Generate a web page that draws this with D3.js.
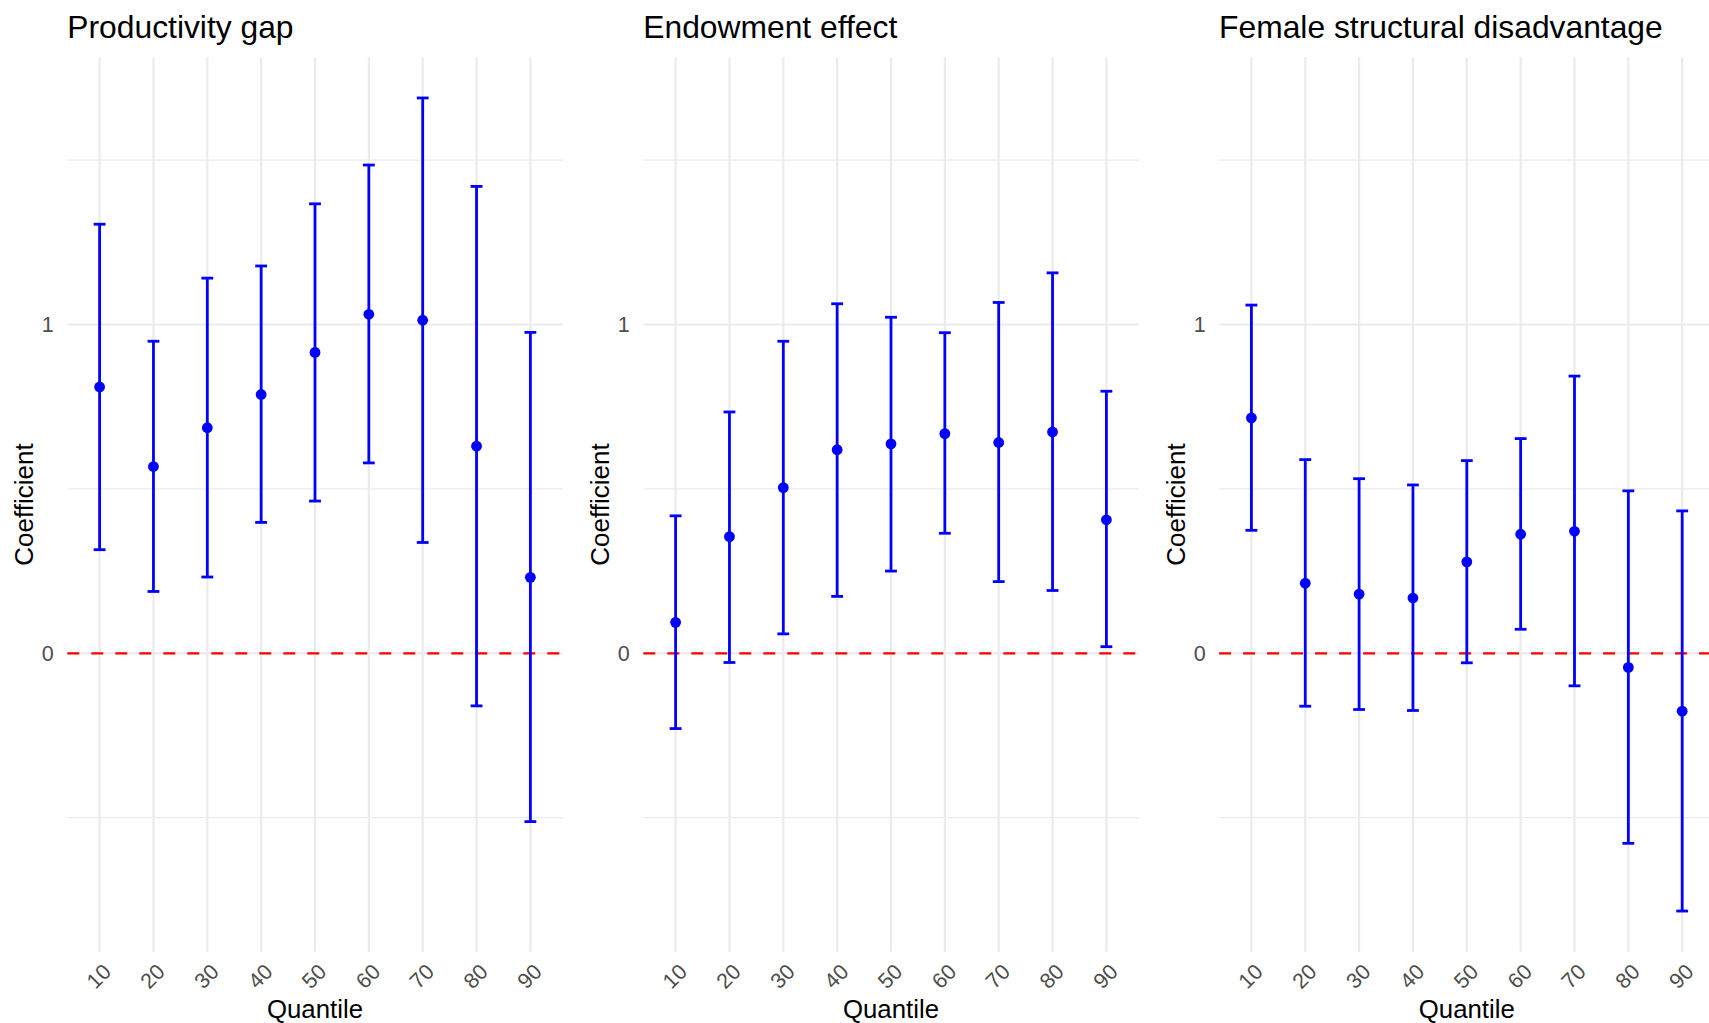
<!DOCTYPE html>
<html lang="en">
<head>
  <meta charset="utf-8">
  <title>Quantile coefficients</title>
  <script src="https://cdn.jsdelivr.net/npm/d3@7"></script>
  <style>
    body { margin: 0; background: #fff; }
    svg { display: block; font-family: "Liberation Sans", Arial, sans-serif; }
  </style>
</head>
<body>
<svg id="chart" width="1709" height="1023"></svg>
<script>

const quantiles = ["10", "20", "30", "40", "50", "60", "70", "80", "90"];

const prodEst = [0.810, 0.568, 0.686, 0.787, 0.915, 1.031, 1.013, 0.630, 0.231];
const prodLo  = [0.315, 0.188, 0.232, 0.398, 0.463, 0.579, 0.337, -0.160, -0.512];
const prodHi  = [1.305, 0.949, 1.141, 1.178, 1.367, 1.485, 1.689, 1.420, 0.976];

const endowEst = [0.094, 0.355, 0.504, 0.619, 0.637, 0.668, 0.641, 0.673, 0.406];
const endowLo  = [-0.229, -0.028, 0.059, 0.173, 0.250, 0.365, 0.218, 0.191, 0.020];
const endowHi  = [0.418, 0.734, 0.949, 1.063, 1.022, 0.975, 1.067, 1.157, 0.797];

const femEst = [0.716, 0.213, 0.180, 0.168, 0.278, 0.362, 0.371, -0.043, -0.176];
const femLo  = [0.374, -0.161, -0.171, -0.174, -0.029, 0.073, -0.099, -0.578, -0.784];
const femHi  = [1.059, 0.589, 0.531, 0.512, 0.586, 0.653, 0.843, 0.494, 0.433];

const titles = ["Productivity gap", "Endowment effect", "Female structural disadvantage"];
const yBreaks = [0, 1];
const yMinor = [-0.5, 0.5, 1.5];

const panels = [
  {title: titles[0], est: prodEst, lo: prodLo, hi: prodHi},
  {title: titles[1], est: endowEst, lo: endowLo, hi: endowHi},
  {title: titles[2], est: femEst, lo: femLo, hi: femHi}
];

// layout
const panelTop = 57.3, panelBottom = 951.7;
const panelW = 495.4;
const panelLefts = [67.3, 643.3, 1219.1];

// shared y range, 5% expansion like ggplot
const allVals = d3.merge([prodLo, prodHi, endowLo, endowHi, femLo, femHi]);
const [ymin, ymax] = d3.extent(allVals);
const pad = (ymax - ymin) * 0.05;
const y = d3.scaleLinear().domain([ymin - pad, ymax + pad]).range([panelBottom, panelTop]);

const svg = d3.select('#chart');

panels.forEach(function(p, k) {
  const left = panelLefts[k];
  const x = d3.scalePoint().domain(quantiles).range([left, left + panelW]).padding(0.6);
  const capHalf = x.step() * 0.11;
  const g = svg.append('g');

  // grid
  g.selectAll('line.minor').data(yMinor).enter().append('line')
    .attr('x1', left).attr('x2', left + panelW)
    .attr('y1', d => y(d)).attr('y2', d => y(d))
    .attr('stroke', '#EBEBEB').attr('stroke-width', 1.1);
  g.selectAll('line.major').data(yBreaks).enter().append('line')
    .attr('x1', left).attr('x2', left + panelW)
    .attr('y1', d => y(d)).attr('y2', d => y(d))
    .attr('stroke', '#EBEBEB').attr('stroke-width', 2.2);
  g.selectAll('line.vgrid').data(quantiles).enter().append('line')
    .attr('x1', d => x(d)).attr('x2', d => x(d))
    .attr('y1', panelTop).attr('y2', panelBottom)
    .attr('stroke', '#EBEBEB').attr('stroke-width', 2.2);

  // zero line
  g.append('line')
    .attr('x1', left).attr('x2', left + panelW)
    .attr('y1', y(0)).attr('y2', y(0))
    .attr('stroke', '#FF0000').attr('stroke-width', 2.2)
    .attr('stroke-dasharray', '12,12');

  // error bars
  const rows = quantiles.map((q, i) => ({q: q, est: p.est[i], lo: p.lo[i], hi: p.hi[i]}));
  const bars = g.selectAll('g.bar').data(rows).enter().append('g')
    .attr('stroke', '#0000FF').attr('stroke-width', 2.8);
  bars.append('line')
    .attr('x1', d => x(d.q)).attr('x2', d => x(d.q))
    .attr('y1', d => y(d.lo)).attr('y2', d => y(d.hi));
  bars.append('line')
    .attr('x1', d => x(d.q) - capHalf).attr('x2', d => x(d.q) + capHalf)
    .attr('y1', d => y(d.lo)).attr('y2', d => y(d.lo));
  bars.append('line')
    .attr('x1', d => x(d.q) - capHalf).attr('x2', d => x(d.q) + capHalf)
    .attr('y1', d => y(d.hi)).attr('y2', d => y(d.hi));

  g.selectAll('circle').data(rows).enter().append('circle')
    .attr('cx', d => x(d.q)).attr('cy', d => y(d.est))
    .attr('r', 5.4).attr('fill', '#0000FF');

  // y axis labels
  const yAxis = g.append('g')
    .attr('transform', 'translate(' + left + ',0)')
    .call(d3.axisLeft(y).tickValues(yBreaks).tickFormat(d3.format('d')).tickSize(0).tickPadding(13.5));
  yAxis.select('.domain').remove();
  yAxis.selectAll('text')
    .attr('font-size', 21.5).attr('fill', '#4D4D4D')
    .attr('font-family', '"Liberation Sans", Arial, sans-serif');

  // x axis labels (rotated)
  const xAxis = g.append('g')
    .attr('transform', 'translate(0,' + panelBottom + ')')
    .call(d3.axisBottom(x).tickSize(0));
  xAxis.select('.domain').remove();
  xAxis.selectAll('text')
    .attr('font-size', 21.5).attr('fill', '#4D4D4D')
    .attr('font-family', '"Liberation Sans", Arial, sans-serif')
    .attr('y', 0).attr('dy', '0.35em')
    .attr('text-anchor', 'middle')
    .attr('transform', 'translate(-1.5,24.5) rotate(-45)');

  // titles
  g.append('text')
    .attr('x', left).attr('y', 37.5)
    .attr('font-size', 31.8).attr('fill', '#000')
    .text(p.title);

  g.append('text')
    .attr('x', left + panelW / 2).attr('y', 1018.3)
    .attr('text-anchor', 'middle')
    .attr('font-size', 25.8).attr('fill', '#000')
    .text('Quantile');

  g.append('text')
    .attr('transform', 'translate(' + (left - 34) + ',' + ((panelTop + panelBottom) / 2) + ') rotate(-90)')
    .attr('text-anchor', 'middle')
    .attr('font-size', 26).attr('fill', '#000')
    .text('Coefficient');
});

</script>
</body>
</html>
